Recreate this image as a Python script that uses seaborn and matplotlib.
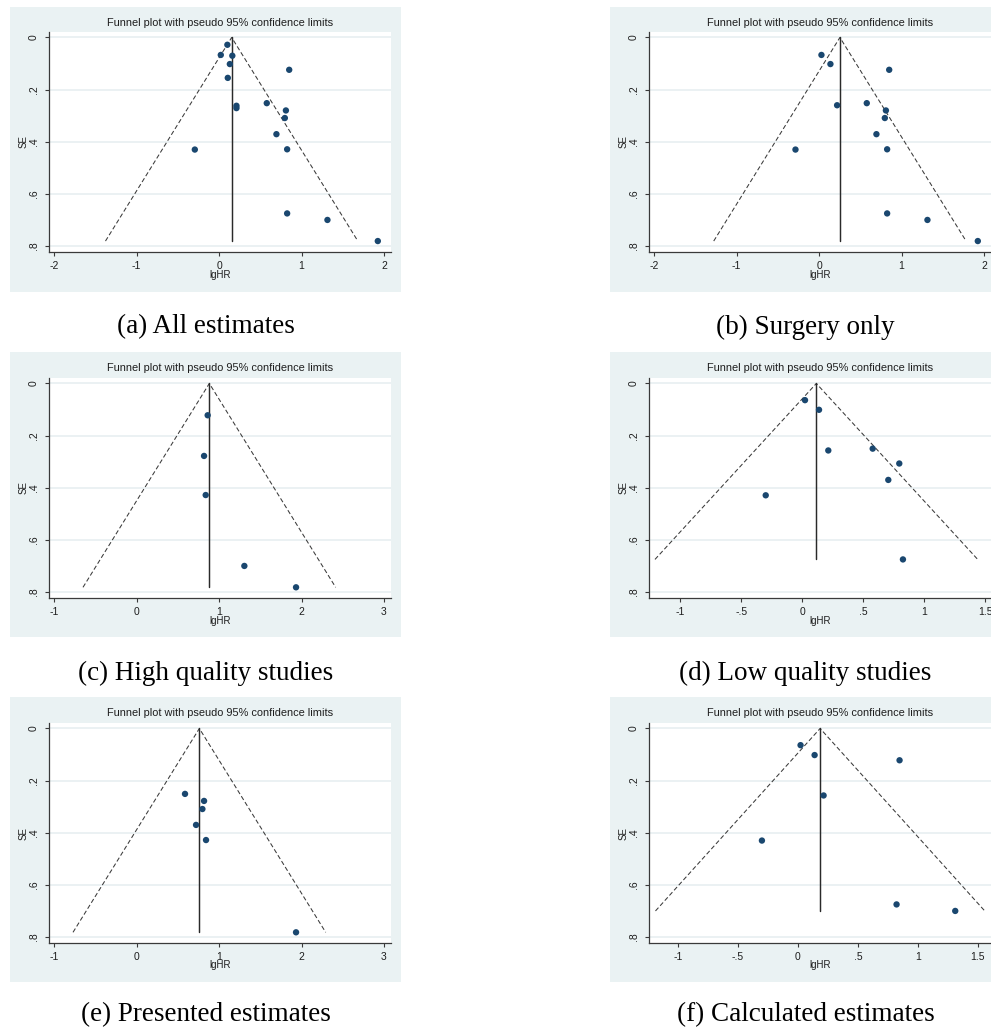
import numpy as np
import pandas as pd
import matplotlib
matplotlib.use("Agg")
import matplotlib.pyplot as plt
import seaborn as sns
from matplotlib.patches import Rectangle

sns.set_theme(style="white")
plt.rcParams['font.family'] = ['Liberation Sans', 'DejaVu Sans']
plt.rcParams['lines.scale_dashes'] = False

# ---------------- data ----------------
all_x = [0.10, 0.02, 0.16, 0.13, 0.85, 0.105, 0.21, 0.21, 0.578, 0.81, 0.797,
         0.695, 0.825, -0.295, 0.825, 1.314, 1.925]
all_se = [0.028, 0.067, 0.070, 0.102, 0.124, 0.155, 0.262, 0.271, 0.252, 0.280,
          0.309, 0.371, 0.429, 0.430, 0.675, 0.700, 0.781]

surgery_x = [0.028, 0.137, 0.85, 0.218, 0.578, 0.81, 0.797, 0.695, 0.825,
             -0.287, 0.825, 1.314, 1.925]
surgery_se = [0.067, 0.102, 0.124, 0.260, 0.252, 0.280, 0.309, 0.371, 0.429,
              0.430, 0.675, 0.700, 0.781]

high_x = [0.861, 0.817, 0.837, 1.306, 1.933]
high_se = [0.122, 0.278, 0.428, 0.700, 0.782]

low_x = [0.022, 0.137, 0.213, 0.577, 0.795, 0.705, -0.30, 0.825]
low_se = [0.064, 0.101, 0.257, 0.250, 0.307, 0.370, 0.429, 0.675]

pres_x = [0.586, 0.817, 0.797, 0.72, 0.841, 1.933]
pres_se = [0.251, 0.278, 0.309, 0.370, 0.428, 0.782]

calc_x = [0.022, 0.139, 0.847, 0.214, -0.30, 0.822, 1.311]
calc_se = [0.064, 0.102, 0.122, 0.257, 0.430, 0.675, 0.700]

pooled = [0.152, 0.252, 0.881, 0.115, 0.760, 0.185]

captions = ["(a) All estimates", "(b) Surgery only", "(c) High quality studies",
            "(d) Low quality studies", "(e) Presented estimates",
            "(f) Calculated estimates"]

xticks_ab = [-2, -1, 0, 1, 2]
xticklabels_ab = ["-2", "-1", "0", "1", "2"]
xticks_ce = [-1, 0, 1, 2, 3]
xticklabels_ce = ["-1", "0", "1", "2", "3"]
xticks_df = [-1, -0.5, 0, 0.5, 1, 1.5]
xticklabels_df = ["-1", "-.5", "0", ".5", "1", "1.5"]
yticks = [0, 0.2, 0.4, 0.6, 0.8]
yticklabels = ["0", ".2", ".4", ".6", ".8"]

title_text = "Funnel plot with pseudo 95% confidence limits"

panels = [
    (all_x, all_se, xticks_ab, xticklabels_ab, (-2.064, 2.085)),
    (surgery_x, surgery_se, xticks_ab, xticklabels_ab, (-2.064, 2.085)),
    (high_x, high_se, xticks_ce, xticklabels_ce, (-1.064, 3.085)),
    (low_x, low_se, xticks_df, xticklabels_df, (-1.257, 1.547)),
    (pres_x, pres_se, xticks_ce, xticklabels_ce, (-1.064, 3.085)),
    (calc_x, calc_se, xticks_df, xticklabels_df, (-1.241, 1.609)),
]

# ---------------- layout ----------------
W, H = 991, 1031
fig = plt.figure(figsize=(W / 100, H / 100), dpi=100)
fig.patch.set_facecolor('white')

BG = '#eaf2f3'
NAVY = '#1a476f'
GRID = '#e6eef0'
AXC = '#3a3a3a'
TXT = '#1e1e1e'

col_bg_x = [10, 610]
col_plot_x = [49, 649]
bg_w, plot_w = 391, 342
row_bg_y = [7, 352, 697]
row_plot_y = [32, 378, 723]
bg_h, plot_h = 285, 220
cap_y = [327, 673, 1015]


def fx(px):
    return px / W


def fy(py):
    return 1 - py / H


# grey graph regions (drawn first, behind everything)
for i in range(6):
    r, c = divmod(i, 2)
    fig.patches.append(Rectangle((fx(col_bg_x[c]), fy(row_bg_y[r] + bg_h)),
                                 bg_w / W, bg_h / H, transform=fig.transFigure,
                                 facecolor=BG, edgecolor='none', zorder=-10))

for i, (xs, ses, xt, xtl, xlim) in enumerate(panels):
    r, c = divmod(i, 2)
    ax = fig.add_axes([fx(col_plot_x[c]), fy(row_plot_y[r] + plot_h),
                       plot_w / W, plot_h / H])
    ax.set_facecolor('white')
    ax.set_zorder(1)

    df = pd.DataFrame({"lgHR": xs, "SE": ses})
    theta = pooled[i]
    semax = df["SE"].max()

    # grid lines
    for yv in yticks:
        ax.axhline(yv, color=GRID, lw=1.1, zorder=0)

    # pseudo 95% confidence limits
    ax.plot([theta - 1.96 * semax, theta, theta + 1.96 * semax],
            [semax, 0, semax], color='#3a3a3a', lw=0.75,
            dashes=(3.2, 1.8), zorder=2)
    # pooled estimate
    ax.plot([theta, theta], [0, semax], color='#2a2a2a', lw=1.05, zorder=2)

    sns.scatterplot(data=df, x="lgHR", y="SE", ax=ax, color=NAVY, s=21,
                    edgecolor='none', linewidth=0, zorder=3)

    ax.set_xlim(*xlim)
    ax.set_ylim(0.823, -0.021)
    ax.set_xticks(xt)
    ax.set_xticklabels(xtl, fontsize=7.5, color=TXT)
    ax.set_yticks(yticks)
    ax.set_yticklabels(yticklabels, fontsize=7.5, color=TXT, rotation=90,
                       va='center')
    ax.tick_params(axis='both', direction='out', length=3, width=0.8,
                   color=AXC, left=True, bottom=True)
    ax.tick_params(axis='x', pad=3.4)
    ax.tick_params(axis='y', pad=4.5)
    for s in ['top', 'right']:
        ax.spines[s].set_visible(False)
    for s in ['left', 'bottom']:
        ax.spines[s].set_color(AXC)
        ax.spines[s].set_linewidth(0.9)

    ax.set_xlabel("lgHR", fontsize=7, color=TXT)
    ax.set_ylabel("SE", fontsize=7, color=TXT)
    ax.xaxis.set_label_coords(0.5, -17.5 / plot_h)
    ax.yaxis.set_label_coords(-20 / plot_w, 0.5)

    fig.text(fx(col_plot_x[c] + plot_w / 2), fy(row_plot_y[r] - 9.5),
             title_text, ha='center', va='center', fontsize=7.9, color=TXT)

    fig.text(fx(col_bg_x[c] + bg_w / 2), fy(cap_y[r]), captions[i],
             ha='center', va='center', fontsize=19.5, color='black',
             family=['Liberation Serif', 'DejaVu Serif'])

fig.savefig("out.png", dpi=100, facecolor='white')
